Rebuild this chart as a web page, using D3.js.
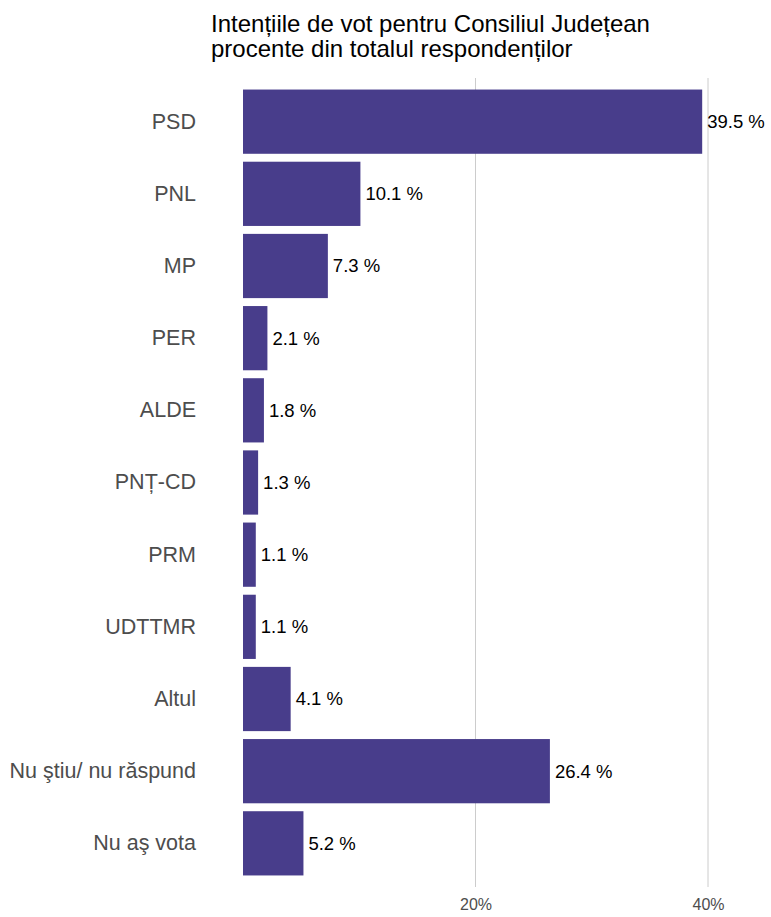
<!DOCTYPE html>
<html>
<head>
<meta charset="utf-8">
<script src="https://cdn.jsdelivr.net/npm/d3@7"></script>
<style>
  body { margin: 0; background: #fff; }
  svg { display: block; font-family: "Liberation Sans", Arial, sans-serif; }
</style>
</head>
<body>
<svg id="chart" width="771" height="917"></svg>
<script>
const categories = ["PSD", "PNL", "MP", "PER", "ALDE", "PNȚ-CD", "PRM", "UDTTMR", "Altul", "Nu ştiu/ nu răspund", "Nu aş vota"];
const values = [39.5, 10.1, 7.3, 2.1, 1.8, 1.3, 1.1, 1.1, 4.1, 26.4, 5.2];
const tickValues = [20, 40];
const titleLines = ["Intențiile de vot pentru Consiliul Județean", "procente din totalul respondenților"];

const svg = d3.select("#chart");
const data = categories.map((c, i) => ({ cat: c, val: values[i] }));

const x = d3.scaleLinear().domain([0, 40]).range([243, 708]);
const y = d3.scaleBand().domain(categories).range([78, 887]).paddingInner(0.11).paddingOuter(0.16);

// gridlines
svg.append("g").selectAll("line").data(tickValues).join("line")
  .attr("x1", d => x(d)).attr("x2", d => x(d))
  .attr("y1", 78).attr("y2", 887)
  .attr("stroke", "#cccccc").attr("stroke-width", 1);

// x axis tick labels
const xAxis = d3.axisBottom(x).tickValues(tickValues).tickFormat(d => d + "%").tickSize(0).tickPadding(0);
const gx = svg.append("g").attr("transform", "translate(0,899)").call(xAxis);
gx.select(".domain").remove();
gx.selectAll("text").attr("font-size", 16).attr("fill", "#4d4d4d")
  .attr("font-family", "'Liberation Sans', Arial, sans-serif").attr("dy", "0.71em");

// y axis labels
const yAxis = d3.axisLeft(y).tickSize(0).tickPadding(0);
const gy = svg.append("g").attr("transform", "translate(196,0)").call(yAxis);
gy.select(".domain").remove();
gy.selectAll("text").attr("font-size", 21.5).attr("fill", "#4d4d4d")
  .attr("font-family", "'Liberation Sans', Arial, sans-serif");

// bars
svg.append("g").selectAll("rect").data(data).join("rect")
  .attr("x", x(0)).attr("y", d => y(d.cat))
  .attr("width", d => x(d.val) - x(0)).attr("height", y.bandwidth())
  .attr("fill", "#483d8b");

// value labels
svg.append("g").selectAll("text").data(data).join("text")
  .attr("x", d => x(d.val) + 5).attr("y", d => y(d.cat) + y.bandwidth() / 2)
  .attr("dy", "0.35em").attr("font-size", 18.5).attr("fill", "#000")
  .text(d => d.val.toFixed(1) + " %");

// title
svg.append("g").selectAll("text").data(titleLines).join("text")
  .attr("x", 211).attr("y", (d, i) => 32 + i * 24.5)
  .attr("font-size", 24).attr("fill", "#000")
  .text(d => d);
</script>
</body>
</html>
